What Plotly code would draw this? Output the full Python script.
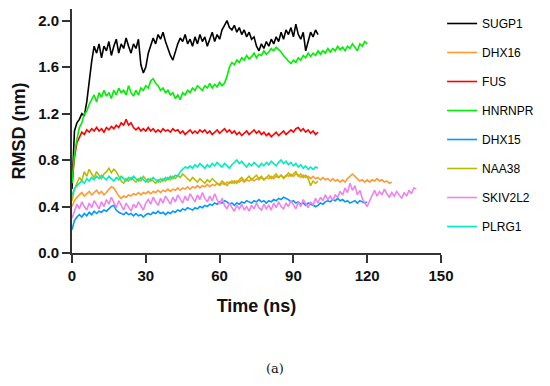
import plotly.graph_objects as go

names = ["SUGP1", "DHX16", "FUS", "HNRNPR", "DHX15", "NAA38", "SKIV2L2", "PLRG1"]
colors = ["#000000", "#FF9933", "#FF0000", "#00EE00", "#0099FF", "#BBBB00", "#EE82EE", "#00EEBB"]

SUGP1 = [0.55, 1.05, 1.12, 1.15, 1.2, 1.18, 1.3, 1.48, 1.65, 1.78, 1.72, 1.8, 1.68, 1.78, 1.74, 1.82, 1.7, 1.78, 1.84, 1.72,
         1.8, 1.76, 1.85, 1.78, 1.72, 1.8, 1.76, 1.84, 1.62, 1.55, 1.6, 1.72, 1.78, 1.85, 1.8, 1.88, 1.84, 1.9, 1.82, 1.76,
         1.7, 1.66, 1.74, 1.8, 1.85, 1.82, 1.88, 1.8, 1.84, 1.78, 1.86, 1.8, 1.88, 1.82, 1.86, 1.78, 1.84, 1.9, 1.82, 1.88,
         1.84, 1.92, 1.96, 2.0, 1.94, 1.92, 1.96, 1.9, 1.94, 1.88, 1.92, 1.86, 1.9, 1.84, 1.86, 1.78, 1.74, 1.8, 1.76, 1.82,
         1.78, 1.84, 1.8, 1.86, 1.82, 1.9, 1.84, 1.92, 1.88, 1.94, 1.86, 1.97, 1.88, 1.84, 1.9, 1.74, 1.82, 1.9, 1.86, 1.92, 1.88]

DHX16 = [0.4, 0.45, 0.48, 0.5, 0.52, 0.49, 0.51, 0.53, 0.5, 0.52, 0.54, 0.51, 0.53, 0.5, 0.52, 0.55, 0.57, 0.56, 0.52, 0.49,
         0.47, 0.49, 0.48, 0.5, 0.49, 0.51, 0.5, 0.52, 0.5, 0.52, 0.51, 0.53, 0.51, 0.53, 0.52, 0.54, 0.52, 0.54, 0.53, 0.55,
         0.53, 0.55, 0.54, 0.56, 0.54, 0.56, 0.55, 0.57, 0.55, 0.57, 0.56, 0.58, 0.56, 0.58, 0.57, 0.59, 0.57, 0.59, 0.58, 0.6,
         0.58, 0.6, 0.59, 0.61, 0.6, 0.62, 0.6, 0.62, 0.61, 0.63, 0.61, 0.63, 0.62, 0.64, 0.62, 0.64, 0.63, 0.65, 0.63, 0.65,
         0.64, 0.66, 0.64, 0.66, 0.65, 0.67, 0.65, 0.67, 0.66, 0.68, 0.66, 0.68, 0.67, 0.65, 0.67, 0.65, 0.66, 0.64, 0.66, 0.64,
         0.65, 0.63, 0.65, 0.63, 0.64, 0.62, 0.64, 0.62, 0.63, 0.61, 0.63, 0.61, 0.64, 0.66, 0.68, 0.66, 0.64, 0.62, 0.63, 0.61,
         0.63, 0.61, 0.63, 0.62, 0.64, 0.62, 0.63, 0.61, 0.62, 0.6, 0.61]

FUS = [0.6, 0.82, 0.95, 1.0, 1.04, 1.02, 1.06, 1.04, 1.07, 1.05, 1.08, 1.05, 1.07, 1.04, 1.08, 1.06, 1.09, 1.07, 1.1, 1.08,
       1.12, 1.1, 1.15, 1.1, 1.12, 1.08, 1.06, 1.08, 1.05, 1.07, 1.05, 1.08, 1.05, 1.07, 1.04, 1.06, 1.04, 1.07, 1.05, 1.06,
       1.04, 1.07, 1.05, 1.06, 1.03, 1.05, 1.02, 1.04, 1.06, 1.03, 1.05, 1.03, 1.06, 1.04, 1.06, 1.03, 1.05, 1.02, 1.04, 1.06,
       1.03, 1.05, 1.07, 1.04, 1.06, 1.03, 1.05, 1.02, 1.04, 1.01, 1.03, 1.05, 1.02, 1.04, 1.06, 1.03, 1.05, 1.02, 1.04, 1.01,
       1.03, 1.0, 1.02, 1.04, 1.01, 1.03, 1.05, 1.02, 1.04, 1.06, 1.04, 1.07, 1.08, 1.05, 1.07, 1.04, 1.06, 1.03, 1.05, 1.02, 1.04]

HNRNPR = [0.6, 0.85, 0.98, 1.08, 1.12, 1.2, 1.22, 1.28, 1.32, 1.36, 1.3, 1.38, 1.34, 1.4, 1.35, 1.38, 1.33, 1.4, 1.36, 1.42,
          1.38, 1.4, 1.36, 1.44, 1.38, 1.35, 1.4, 1.36, 1.42, 1.4, 1.44, 1.42, 1.48, 1.5, 1.46, 1.44, 1.4, 1.42, 1.38, 1.4,
          1.36, 1.38, 1.33, 1.36, 1.32, 1.38, 1.36, 1.4, 1.38, 1.42, 1.4, 1.44, 1.42, 1.4, 1.44, 1.42, 1.46, 1.42, 1.45, 1.43,
          1.47, 1.44, 1.46, 1.52, 1.6, 1.64, 1.62, 1.66, 1.64, 1.68, 1.66, 1.7, 1.67, 1.69, 1.72, 1.68, 1.71, 1.7, 1.74, 1.71,
          1.73, 1.76, 1.74, 1.77, 1.75, 1.73, 1.7, 1.67, 1.65, 1.63, 1.66, 1.64, 1.68, 1.66, 1.7, 1.68, 1.72, 1.69, 1.72, 1.7,
          1.74, 1.71, 1.74, 1.72, 1.76, 1.73, 1.76, 1.74, 1.78, 1.75, 1.77, 1.74, 1.78, 1.76, 1.8, 1.77, 1.74, 1.8, 1.78, 1.82, 1.8]

DHX15 = [0.2, 0.28, 0.31, 0.33, 0.31, 0.34, 0.32, 0.35, 0.33, 0.36, 0.34, 0.36, 0.35, 0.37, 0.36, 0.38, 0.4, 0.41, 0.37, 0.35,
         0.34, 0.33, 0.35, 0.33, 0.34, 0.32, 0.34, 0.32, 0.33, 0.31, 0.33, 0.34, 0.33, 0.35, 0.34, 0.36, 0.34, 0.35, 0.33, 0.35,
         0.34, 0.36, 0.35, 0.37, 0.36, 0.38, 0.37, 0.39, 0.38, 0.37, 0.39, 0.38, 0.4, 0.39, 0.41, 0.4, 0.42, 0.41, 0.43, 0.42,
         0.44, 0.43, 0.45, 0.44, 0.42, 0.43, 0.41, 0.43, 0.42, 0.44, 0.43, 0.45, 0.44, 0.43, 0.45, 0.44, 0.46, 0.44, 0.45, 0.43,
         0.45, 0.44, 0.46, 0.45, 0.47, 0.46, 0.48, 0.47, 0.46, 0.44, 0.45, 0.43, 0.44, 0.42, 0.43, 0.41, 0.43, 0.42, 0.41, 0.4,
         0.41, 0.43, 0.42, 0.44, 0.45, 0.44, 0.46, 0.45, 0.47, 0.45, 0.46, 0.44, 0.45, 0.43, 0.44, 0.45, 0.43, 0.45, 0.44, 0.43, 0.44]

NAA38 = [0.45, 0.55, 0.6, 0.65, 0.62, 0.7, 0.66, 0.72, 0.68, 0.65, 0.7, 0.67, 0.64, 0.68, 0.7, 0.73, 0.69, 0.72, 0.7, 0.66,
         0.62, 0.6, 0.64, 0.62, 0.65, 0.63, 0.61, 0.64, 0.62, 0.66, 0.63, 0.61, 0.64, 0.62, 0.6, 0.63, 0.61, 0.64, 0.62, 0.65,
         0.63, 0.66, 0.64, 0.67, 0.65, 0.68, 0.66, 0.64, 0.62, 0.65, 0.63, 0.61, 0.64, 0.62, 0.6, 0.63, 0.61, 0.64, 0.62, 0.6,
         0.59, 0.62, 0.6, 0.58, 0.61, 0.6, 0.62, 0.6, 0.63, 0.65, 0.62, 0.64, 0.66, 0.63, 0.65, 0.67, 0.64, 0.66, 0.63, 0.65,
         0.67, 0.64, 0.66, 0.68, 0.65, 0.67, 0.64, 0.66, 0.69, 0.66, 0.68, 0.7, 0.66, 0.68, 0.65, 0.67, 0.64, 0.58, 0.62, 0.6, 0.62]

SKIV2L2 = [0.3, 0.36, 0.42, 0.38, 0.44, 0.4, 0.37, 0.43, 0.39, 0.45, 0.41, 0.38, 0.44, 0.4, 0.46, 0.42, 0.48, 0.43, 0.39, 0.45,
           0.41, 0.37, 0.43, 0.4, 0.36, 0.42, 0.39, 0.44, 0.4, 0.37, 0.43, 0.46, 0.42, 0.48, 0.44, 0.41, 0.47, 0.43, 0.49, 0.45,
           0.42, 0.48, 0.44, 0.5, 0.46, 0.43, 0.49, 0.45, 0.51, 0.47, 0.44, 0.5, 0.46, 0.52, 0.47, 0.44, 0.49, 0.45, 0.51, 0.46,
           0.42, 0.47, 0.41, 0.38, 0.43, 0.39, 0.36, 0.41, 0.38, 0.42, 0.37, 0.4, 0.36, 0.41, 0.38, 0.43, 0.39, 0.37, 0.42, 0.38,
           0.41, 0.37, 0.43, 0.39, 0.44, 0.4, 0.38, 0.43, 0.4, 0.45, 0.41, 0.38, 0.44, 0.4, 0.46, 0.42, 0.39, 0.44, 0.41, 0.47,
           0.43, 0.48, 0.45, 0.5, 0.46, 0.49, 0.45, 0.5, 0.48, 0.53, 0.5, 0.56, 0.52, 0.6, 0.54, 0.58, 0.5, 0.54, 0.47, 0.43,
           0.4, 0.45, 0.5, 0.54, 0.49, 0.53, 0.5, 0.55, 0.51, 0.48, 0.52, 0.49, 0.53, 0.5, 0.47, 0.52, 0.49, 0.54, 0.51, 0.56, 0.55]

PLRG1 = [0.5, 0.55, 0.58, 0.6, 0.62, 0.6, 0.64, 0.62, 0.65, 0.63, 0.66, 0.64, 0.67, 0.65, 0.63, 0.66, 0.64, 0.62, 0.65, 0.63,
         0.66, 0.64, 0.62, 0.65, 0.63, 0.66, 0.64, 0.62, 0.65, 0.63, 0.61, 0.64, 0.62, 0.65, 0.63, 0.61, 0.64, 0.62, 0.65, 0.63,
         0.66, 0.64, 0.67, 0.66, 0.7, 0.72, 0.74, 0.73, 0.75, 0.73, 0.76, 0.74, 0.77, 0.75, 0.73, 0.76, 0.74, 0.77, 0.75, 0.78,
         0.76, 0.74, 0.77, 0.75, 0.73, 0.76, 0.78, 0.8, 0.77, 0.79, 0.76, 0.74, 0.77, 0.75, 0.78, 0.76, 0.74, 0.77, 0.75, 0.78,
         0.76, 0.79, 0.77, 0.75, 0.78, 0.8, 0.77, 0.79, 0.76, 0.78, 0.75, 0.77, 0.74, 0.76, 0.73, 0.75, 0.72, 0.74, 0.72, 0.74, 0.73]

series = [SUGP1, DHX16, FUS, HNRNPR, DHX15, NAA38, SKIV2L2, PLRG1]
x_ticks = [0, 30, 60, 90, 120, 150]
y_ticks = [0.0, 0.4, 0.8, 1.2, 1.6, 2.0]
y_tick_text = ["0.0", "0.4", "0.8", "1.2", "1.6", "2.0"]

FONT = "Liberation Sans, Arial, sans-serif"

fig = go.Figure()
for name, color, vals in zip(names, colors, series):
    fig.add_trace(go.Scatter(
        x=list(range(len(vals))), y=vals, mode="lines", name=name,
        legendgroup=name,
        line=dict(color=color, width=1.6),
    ))

# The page body has an 8px default margin, so the figure is sized 542x378
fig.update_layout(
    width=542, height=378,
    margin=dict(l=64, r=109, t=1, b=133, autoexpand=False),
    paper_bgcolor="white", plot_bgcolor="white",
    showlegend=True,
    legend=dict(x=1.003, y=1.0, xanchor="left", yanchor="top",
                font=dict(family=FONT, size=12, color="#000000"),
                tracegroupgap=10, itemwidth=30, bgcolor="rgba(0,0,0,0)",
                maxheight=360),
    xaxis=dict(range=[0, 150], tickvals=x_ticks, ticks="outside", ticklen=8, tickwidth=1.5,
               tickcolor="#333333", showline=True, linecolor="#333333", linewidth=2,
               showgrid=False, zeroline=False, automargin=False,
               tickfont=dict(family=FONT, size=15, color="#111111", weight="bold"),
               title=dict(text="Time (ns)", font=dict(family=FONT, size=18, color="#111111", weight="bold"),
                          standoff=16)),
    yaxis=dict(range=[0, 2.1], tickvals=y_ticks, ticktext=y_tick_text, ticks="outside", ticklen=8,
               tickwidth=1.5, tickcolor="#333333", showline=True, linecolor="#333333", linewidth=2,
               showgrid=False, zeroline=False, automargin=False,
               tickfont=dict(family=FONT, size=15, color="#111111", weight="bold"),
               title=dict(text="RMSD (nm)", font=dict(family=FONT, size=18, color="#111111", weight="bold"),
                          standoff=8)),
)

fig.add_annotation(text="(a)", xref="paper", yref="paper", x=(275 - 72) / 369, y=(253 - 368) / 244,
                   showarrow=False, font=dict(family="DejaVu Serif, serif", size=13, color="#111111"),
                   xanchor="center", yanchor="middle")

fig.write_html("out.html")
